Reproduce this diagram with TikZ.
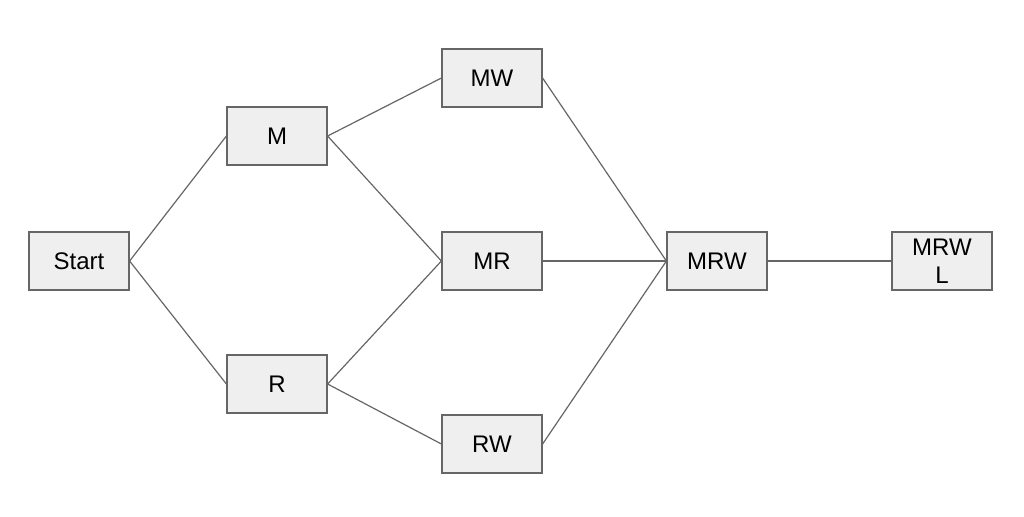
\documentclass[tikz,border=0pt]{standalone}
\usepackage{fontspec}
\setmainfont{Liberation Sans}
\usepackage{tikz}
\usetikzlibrary{positioning}
\definecolor{caixa}{HTML}{EFEFEF}
\definecolor{borda}{HTML}{666666}
\tikzset{
  caixa/.style={draw=borda, fill=caixa, line width=0.6pt, minimum width=50pt, minimum height=29pt,
    inner sep=1pt, align=center, font=\fontsize{12}{14}\selectfont},
  ligacao/.style={draw=borda, line width=0.6pt}
}

\begin{document}
\begin{tikzpicture}[x=0.5pt, y=-0.5pt]
\useasboundingbox (0,0) rectangle (1024,516);

% Nó inicial
\node[caixa] (start) at (79,261) {Start};

% Primeiro nível
\node[caixa] (M) at (277,136) {M};
\node[caixa] (R) at (277,384) {R};

% Segundo nível
\node[caixa] (MW) at (492,78) {MW};
\node[caixa] (MR) at (492,261) {MR};
\node[caixa] (RW) at (492,444) {RW};

% Nível final
\node[caixa] (MRW) at (717,261) {MRW};
\node[caixa] (MRWL) at (942,261) {MRW\\L};

% Ligações
\draw[ligacao] (start.east) -- (M.west);
\draw[ligacao] (start.east) -- (R.west);
\draw[ligacao] (M.east) -- (MW.west);
\draw[ligacao] (M.east) -- (MR.west);
\draw[ligacao] (R.east) -- (MR.west);
\draw[ligacao] (R.east) -- (RW.west);
\draw[ligacao] (MW.east) -- (MRW.west);
\draw[ligacao] (MR.east) -- (MRW.west);
\draw[ligacao] (RW.east) -- (MRW.west);
\draw[ligacao] (MRW.east) -- (MRWL.west);

\end{tikzpicture}
\end{document}
